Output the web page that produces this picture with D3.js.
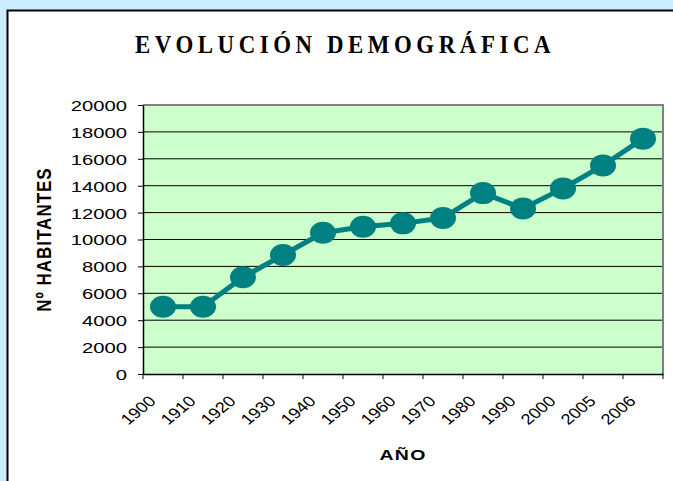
<!DOCTYPE html>
<html>
<head>
<meta charset="utf-8">
<script src="https://cdn.jsdelivr.net/npm/d3@7"></script>
<style>
  body { margin: 0; background: #ccecff; }
  svg { display: block; }
</style>
</head>
<body>
<div id="chart"></div>
<script>
// data
var years = ["1900","1910","1920","1930","1940","1950","1960","1970","1980","1990","2000","2005","2006"];
var habitantes = [5000, 5000, 7200, 8850, 10500, 10950, 11200, 11600, 13450, 12300, 13800, 15500, 17500];
var yTicks = [0, 2000, 4000, 6000, 8000, 10000, 12000, 14000, 16000, 18000, 20000];

var svgWidth = 673;
var svgHeight = 481;

// plot area
var plot = { left: 143, right: 663, top: 105, bottom: 374 };
var stretch = 1.35; // the original chart is drawn a bit wide

var svg = d3.select("#chart")
  .append("svg")
  .attr("width", svgWidth)
  .attr("height", svgHeight);

// outer chart box
svg.append("rect")
  .attr("x", 7.5)
  .attr("y", 10.5)
  .attr("width", 720)
  .attr("height", 520)
  .attr("fill", "#fff")
  .attr("stroke", "#000")
  .attr("stroke-width", 2);

// title
svg.append("text")
  .attr("transform", "translate(345,53) scale(0.88,1)")
  .attr("text-anchor", "middle")
  .attr("font-family", "'Liberation Serif', 'Times New Roman', serif")
  .attr("font-weight", "bold")
  .attr("font-size", "26px")
  .attr("letter-spacing", "5.2px")
  .text("EVOLUCIÓN DEMOGRÁFICA");

var x = d3.scaleBand()
  .domain(years)
  .range([plot.left, plot.right]);

var y = d3.scaleLinear()
  .domain([0, 20000])
  .range([plot.bottom, plot.top]);

var data = years.map(function(d, i) { return { year: d, value: habitantes[i] }; });

// plot background
svg.append("rect")
  .attr("x", plot.left)
  .attr("y", plot.top)
  .attr("width", plot.right - plot.left)
  .attr("height", plot.bottom - plot.top)
  .attr("fill", "#ccffcc");

// gridlines
svg.append("g")
  .selectAll("line")
  .data(yTicks.filter(function(d) { return d > 0 && d < 20000; }))
  .enter()
  .append("line")
  .attr("x1", plot.left)
  .attr("x2", plot.right)
  .attr("y1", function(d) { return y(d); })
  .attr("y2", function(d) { return y(d); })
  .attr("stroke", "#000")
  .attr("stroke-width", 1);

// plot border (top / right gray)
svg.append("path")
  .attr("d", "M" + plot.left + "," + plot.top + "H" + plot.right + "V" + plot.bottom)
  .attr("fill", "none")
  .attr("stroke", "#808080")
  .attr("stroke-width", 2);

// y axis
var leftAxis = d3.axisLeft(y).tickValues(yTicks).tickFormat(d3.format("d")).tickSize(5).tickSizeOuter(0);
var yAxisG = svg.append("g")
  .attr("transform", "translate(" + plot.left + ",0)")
  .call(leftAxis);
yAxisG.select(".domain").attr("stroke", "#000").attr("stroke-width", 1.5);
yAxisG.selectAll(".tick line").attr("stroke", "#000");
yAxisG.selectAll(".tick text")
  .attr("x", 0)
  .attr("dy", "0.36em")
  .attr("transform", "translate(-16,0) scale(" + stretch + ",1)")
  .attr("font-family", "'Liberation Sans', Arial, sans-serif")
  .attr("font-size", "15px")
  .attr("fill", "#000");

// x axis: labels at category centres, tick marks at boundaries
var bottomAxis = d3.axisBottom(x).tickSize(0).tickSizeOuter(0);
var xAxisG = svg.append("g")
  .attr("transform", "translate(0," + plot.bottom + ")")
  .call(bottomAxis);
xAxisG.select(".domain").attr("stroke", "#000").attr("stroke-width", 1.5);
xAxisG.selectAll(".tick text")
  .attr("x", 0)
  .attr("y", 0)
  .attr("dy", 0)
  .attr("text-anchor", "end")
  .attr("transform", "translate(-6,28) scale(1.22,1) rotate(-45)")
  .attr("font-family", "'Liberation Sans', Arial, sans-serif")
  .attr("font-size", "15px")
  .attr("fill", "#000");

var bounds = years.map(function(d) { return x(d); }).concat([x.range()[1]]);
svg.append("g")
  .selectAll("line")
  .data(bounds)
  .enter()
  .append("line")
  .attr("x1", function(d) { return d; })
  .attr("x2", function(d) { return d; })
  .attr("y1", plot.bottom)
  .attr("y2", plot.bottom + 5)
  .attr("stroke", "#000")
  .attr("stroke-width", 1);

// axis titles
svg.append("text")
  .attr("transform", "translate(51," + (plot.top + plot.bottom) / 2 + ") scale(1.2,1) rotate(-90)")
  .attr("text-anchor", "middle")
  .attr("font-family", "'Liberation Sans', Arial, sans-serif")
  .attr("font-weight", "bold")
  .attr("font-size", "17px")
  .attr("letter-spacing", "1px")
  .text("Nº HABITANTES");

svg.append("text")
  .attr("transform", "translate(" + (plot.left + plot.right) / 2 + ",460) scale(1.3,1)")
  .attr("text-anchor", "middle")
  .attr("font-family", "'Liberation Sans', Arial, sans-serif")
  .attr("font-weight", "bold")
  .attr("font-size", "15px")
  .attr("letter-spacing", "1px")
  .text("AÑO");

// line + markers
var line = d3.line()
  .x(function(d) { return x(d.year) + x.bandwidth() / 2; })
  .y(function(d) { return y(d.value); });

svg.append("path")
  .datum(data)
  .attr("d", line)
  .attr("fill", "none")
  .attr("stroke", "#008080")
  .attr("stroke-width", 5)
  .attr("stroke-linejoin", "round");

svg.append("g")
  .selectAll("ellipse")
  .data(data)
  .enter()
  .append("ellipse")
  .attr("cx", function(d) { return x(d.year) + x.bandwidth() / 2; })
  .attr("cy", function(d) { return y(d.value); })
  .attr("rx", 13)
  .attr("ry", 11)
  .attr("fill", "#008080");
</script>
</body>
</html>
